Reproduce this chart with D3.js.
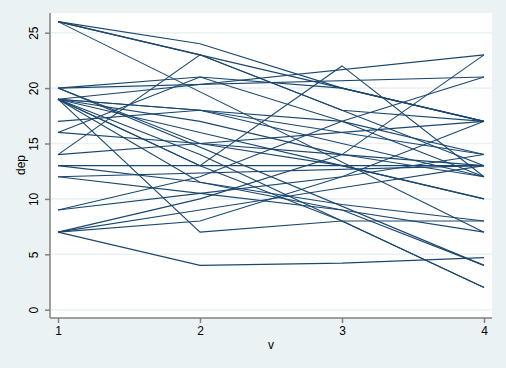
<!DOCTYPE html>
<html>
<head>
<meta charset="utf-8">
<style>
  body { margin: 0; background: #eaf2f3; }
  text { font-family: "Liberation Sans", Arial, sans-serif; fill: #000; }
  .subj { fill: none; stroke: #1a476f; stroke-width: 1.1; }
</style>
</head>
<body>
<svg width="506" height="368"></svg>
<script src="https://d3js.org/d3.v7.min.js"></script>
<script>
// x categories (v) and y ticks (dep)
var visits = [1, 2, 3, 4];
var yTicks = [0, 5, 10, 15, 20, 25];

// dep values per subject at v = 1..4 (null = missing, line connects over it)
var s01 = [26, 24, 20, 17];
var s02 = [26, 23, 18, 17];
var s03 = [26, 23, 20, 17];
var s04 = [26, null, null, 7];
var s05 = [20, 21, 17, 12];
var s06 = [20, null, null, 21];
var s07 = [20, 15, 13, 10];
var s08 = [20, null, null, 4];
var s09 = [19, null, null, 23];
var s10 = [19, 18, 17, 14];
var s11 = [19, 18, 15, 12];
var s12 = [19, 17, 14, 13];
var s13 = [19, 13, 22, 12];
var s14 = [19, 13, 8, 2];
var s15 = [19, 14, 8, 2];
var s16 = [19, 11.5, 9, 4];
var s17 = [19, 7, 8, 8];
var s18 = [19, 16, 13, 10];
var s19 = [17, 18, 16, 14];
var s20 = [16, 21, 20, 17];
var s21 = [16, 15, 14, 12];
var s22 = [14, 23, 18, 13];
var s23 = [14, 15, 16, 17];
var s24 = [13, 13, 13, 13];
var s25 = [13, 11.5, 9.5, 8];
var s26 = [12, null, null, 13];
var s27 = [12, 10.5, 9, 7];
var s28 = [9, 12, 17, 21];
var s29 = [9, 10.5, 12, 17];
var s30 = [7, 4, 4.2, 4.7];
var s31 = [7, 8, 12, 14];
var s32 = [7, 10, 14, 23];
var s33 = [7, 9, 11, 13];

var subjects = [s01, s02, s03, s04, s05, s06, s07, s08, s09, s10, s11,
  s12, s13, s14, s15, s16, s17, s18, s19, s20, s21, s22, s23, s24, s25,
  s26, s27, s28, s29, s30, s31, s32, s33];

var W = 506, H = 368;
var plot = {left: 50, right: 492, top: 13, bottom: 318};

var x = d3.scaleLinear().domain([1, 4]).range([58, 484]);
var y = d3.scaleLinear().domain([0, 25]).range([309.7, 32.7]);

var svg = d3.select("svg");

svg.append("rect").attr("width", W).attr("height", H).attr("fill", "#eaf2f3");
svg.append("rect")
    .attr("x", plot.left).attr("y", plot.top)
    .attr("width", plot.right - plot.left)
    .attr("height", plot.bottom - plot.top)
    .attr("fill", "#fff");

// gridlines
svg.append("g").selectAll("line")
    .data(yTicks)
  .enter().append("line")
    .attr("x1", plot.left).attr("x2", plot.right)
    .attr("y1", function(d) { return y(d); })
    .attr("y2", function(d) { return y(d); })
    .attr("stroke", "#eaf2f3")
    .attr("stroke-width", 1.6);

// subject lines
var line = d3.line()
    .x(function(d) { return x(d.v); })
    .y(function(d) { return y(d.dep); });

svg.append("g").selectAll("path")
    .data(subjects)
  .enter().append("path")
    .attr("class", "subj")
    .attr("d", function(s) {
      var pts = [];
      s.forEach(function(val, i) {
        if (val != null) pts.push({v: visits[i], dep: val});
      });
      return line(pts);
    });

// y axis
var yAxis = svg.append("g")
    .attr("transform", "translate(" + plot.left + ",0)")
    .call(d3.axisLeft(y).tickValues(yTicks).tickSize(5).tickSizeOuter(0).tickPadding(0));
yAxis.select(".domain").attr("d", "M0," + plot.top + "V" + plot.bottom);
yAxis.selectAll("path, line").attr("stroke", "#808080").attr("stroke-width", 1.5);
yAxis.selectAll("text")
    .attr("transform", "rotate(-90)")
    .attr("x", 0)
    .attr("y", -12)
    .attr("dy", 0)
    .attr("text-anchor", "middle")
    .style("font-size", "12px");

// x axis
var xAxis = svg.append("g")
    .attr("transform", "translate(0," + plot.bottom + ")")
    .call(d3.axisBottom(x).tickValues(visits).tickFormat(d3.format("d")).tickSize(5).tickSizeOuter(0).tickPadding(3));
xAxis.select(".domain").attr("d", "M" + plot.left + ",0H" + plot.right);
xAxis.selectAll("path, line").attr("stroke", "#808080").attr("stroke-width", 1.5);
xAxis.selectAll("text").style("font-size", "12px");

// axis titles
svg.append("text")
    .attr("transform", "translate(25,165) rotate(-90)")
    .attr("text-anchor", "middle")
    .style("font-size", "12px")
    .text("dep");

svg.append("text")
    .attr("x", 271).attr("y", 349)
    .attr("text-anchor", "middle")
    .style("font-size", "12px")
    .text("v");
</script>
</body>
</html>
